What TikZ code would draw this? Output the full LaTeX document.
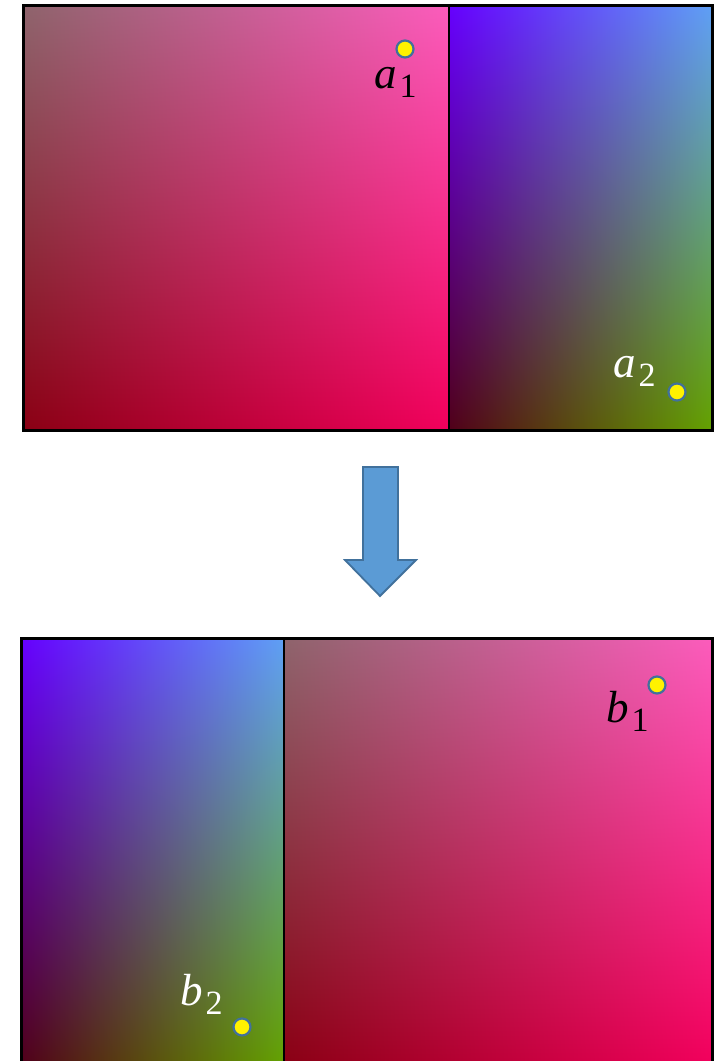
\documentclass[tikz,border=0pt]{standalone}
\usepackage{fontspec}
\setmainfont{Liberation Serif}
% bilinear shadings (corner colours of the two kinds of panel)
\pgfdeclarefunctionalshading{pinkshade}{\pgfpoint{0bp}{0bp}}{\pgfpoint{100bp}{100bp}}{}{
25 sub 50 div exch 25 sub 50 div exch
1 index 1 index 2 copy mul 0.023 mul 3 1 roll 0.016 mul exch 0.408 mul add add 0.541 add
2 index 2 index 2 copy mul -0.031 mul 3 1 roll 0.392 mul exch 0 mul add add 0 add
3 index 3 index 2 copy mul 0.030 mul 3 1 roll 0.346 mul exch 0.283 mul add add 0.078 add
5 -2 roll pop pop
}
\pgfdeclarefunctionalshading{purpleshade}{\pgfpoint{0bp}{0bp}}{\pgfpoint{100bp}{100bp}}{}{
25 sub 50 div exch 25 sub 50 div exch
1 index 1 index 2 copy mul -0.105 mul 3 1 roll 0.086 mul exch 0.078 mul add add 0.314 add
2 index 2 index 2 copy mul -0.008 mul 3 1 roll 0 mul exch 0.635 mul add add 0 add
3 index 3 index 2 copy mul 0.059 mul 3 1 roll 0.902 mul exch -0.098 mul add add 0.098 add
5 -2 roll pop pop
}
\definecolor{dotline}{RGB}{65,113,156}
\definecolor{arrowfill}{RGB}{91,155,213}
\newcommand\sublbl[2]{{\fontsize{45}{50}\selectfont\itshape #1}\kern3pt\raisebox{-9pt}{\fontsize{34}{38}\selectfont #2}}
\tikzset{
  frame/.style={draw=black, line width=3pt},
  divider/.style={draw=black, line width=2.2pt},
  pinkpanel/.style={shading=pinkshade},
  purplepanel/.style={shading=purpleshade},
  dot/.style={circle, draw=dotline, line width=2.2pt, fill=yellow, minimum size=17pt, inner sep=0pt},
  lbl/.style={inner sep=0pt},
  blockarrow/.style={fill=arrowfill, draw=dotline, line width=1.8pt, line join=miter}
}
\begin{document}
\begin{tikzpicture}[x=1pt,y=-1pt]
\useasboundingbox (0,0) rectangle (716,1061);
% top row
\shade[pinkpanel] (23,5) rectangle (449,430);
\shade[purplepanel] (449,5) rectangle (712,430);
\draw[frame] (23,5) rectangle (712,430);
\draw[divider] (449,5) -- (449,430);
% bottom row
\shade[purplepanel] (21,638) rectangle (284,1064);
\shade[pinkpanel] (284,638) rectangle (712,1064);
\draw[frame] (21,638) rectangle (712,1064);
\draw[divider] (284,638) -- (284,1064);
% arrow
\draw[blockarrow] (363,467) -- (398,467) -- (398,560) -- (416,560) -- (380,596) -- (345,560) -- (363,560) -- cycle;
% dots and labels
\node[dot] (d1) at (405,49) {};
\node[lbl, anchor=base west, text=black] (l1) at (374,88) {\sublbl{a}{1}};
\node[dot] (d2) at (677,392) {};
\node[lbl, anchor=base west, text=white] (l2) at (613,377) {\sublbl{a}{2}};
\node[dot] (d3) at (657,685) {};
\node[lbl, anchor=base west, text=black] (l3) at (606,722) {\sublbl{b}{1}};
\node[dot] (d4) at (242,1027) {};
\node[lbl, anchor=base west, text=white] (l4) at (180,1005) {\sublbl{b}{2}};
\end{tikzpicture}
\end{document}
